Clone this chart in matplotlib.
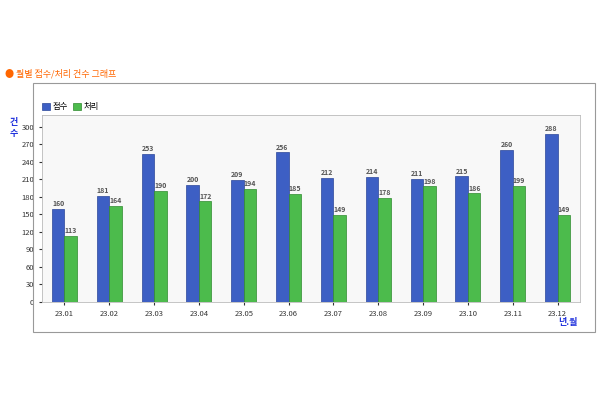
import matplotlib
matplotlib.use('Agg')
import matplotlib.pyplot as plt
import numpy as np
from matplotlib.patches import Rectangle

plt.rcParams['font.family'] = ['Noto Sans CJK KR', 'DejaVu Sans']

months = ['23.01','23.02','23.03','23.04','23.05','23.06','23.07','23.08','23.09','23.10','23.11','23.12']
received = [160,181,253,200,209,256,212,214,211,215,260,288]
processed = [113,164,190,172,194,185,149,178,198,186,199,149]
yticks = list(range(0, 301, 30))

fig = plt.figure(figsize=(6, 4), dpi=100)
fig.patches.append(Rectangle((33/600, 1-332/400), 562/600, 249/400, transform=fig.transFigure,
                             fill=False, edgecolor='#999999', linewidth=0.8))
fig.text(5/600, 1-74/400, '● 월별 접수/처리 건수 그래프', color='#ff6600', fontsize=6.5, va='center')

ax = fig.add_axes([42/600, 1-302/400, 538/600, 187/400])
ax.set_facecolor('#f8f8f8')
x = np.arange(len(months))
w = 0.28
b1 = ax.bar(x - w/2, received, w, color='#3d5fc4', edgecolor='#2a4699', linewidth=0.5, label='접수')
b2 = ax.bar(x + w/2, processed, w, color='#4cbb4c', edgecolor='#2f8a2f', linewidth=0.5, label='처리')
for r, v in zip(b1, received):
    ax.text(r.get_x()+r.get_width()/2, v+3, str(v), ha='center', va='bottom', fontsize=5, color='#555555', fontweight='bold')
for r, v in zip(b2, processed):
    ax.text(r.get_x()+r.get_width()/2, v+3, str(v), ha='center', va='bottom', fontsize=5, color='#555555', fontweight='bold')
ax.set_xlim(-0.5, len(months)-0.5)
ax.set_ylim(0, 320)
ax.set_yticks(yticks)
ax.set_xticks(x)
ax.set_xticklabels(months)
ax.tick_params(labelsize=5.5, colors='#333333', length=2)
for s in ax.spines.values():
    s.set_color('#bbbbbb'); s.set_linewidth(0.6)
ax.legend(loc='lower left', bbox_to_anchor=(0, 1.02), ncol=2, frameon=False, fontsize=6,
          handlelength=1.0, handleheight=1.0, handletextpad=0.3, columnspacing=0.6, borderaxespad=0, borderpad=0)
fig.text(14/600, 1-128/400, '건\n수', color='#2233dd', fontsize=6.5, ha='center', va='center', rotation=0, fontweight='bold')
fig.text(568/600, 1-322/400, '년.월', color='#2233dd', fontsize=6.5, ha='center', va='center', fontweight='bold')
fig.savefig('out.png', dpi=100)
